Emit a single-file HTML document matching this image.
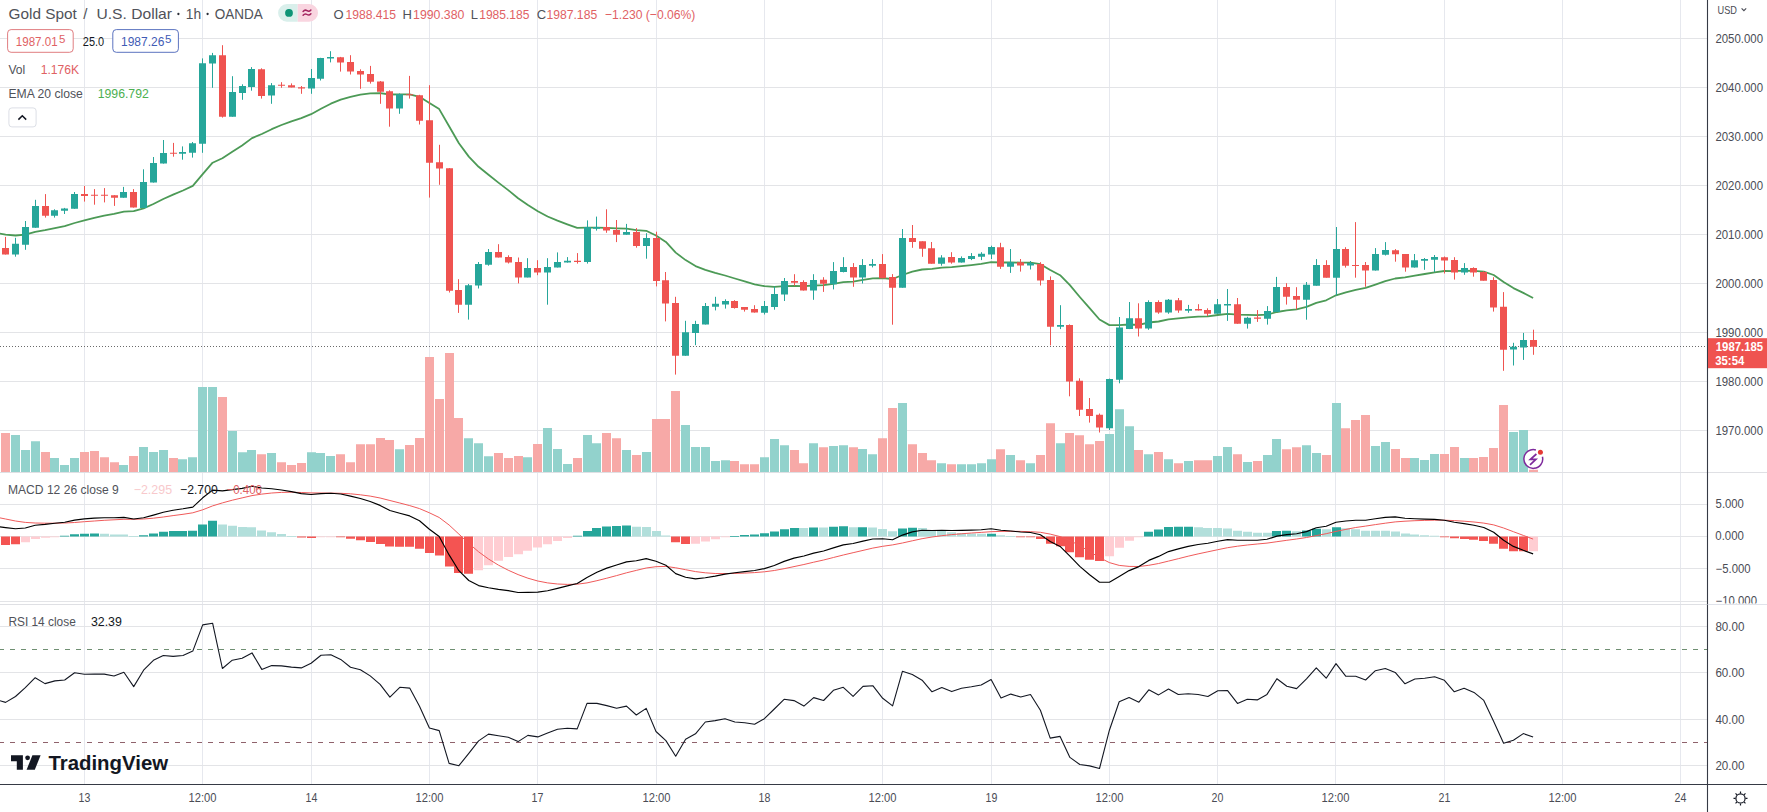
<!DOCTYPE html><html><head><meta charset="utf-8"><style>html,body{margin:0;padding:0;background:#fff;overflow:hidden}svg{display:block}text{font-family:"Liberation Sans", sans-serif}</style></head><body>
<svg width="1767" height="812" viewBox="0 0 1767 812">
<rect width="1767" height="812" fill="#fff"/>
<path d="M84.5 0V784 M202.5 0V784 M311.5 0V784 M429.5 0V784 M537.5 0V784 M656.5 0V784 M764.5 0V784 M882.5 0V784 M991.5 0V784 M1109.5 0V784 M1217.5 0V784 M1335.5 0V784 M1444.5 0V784 M1562.5 0V784 M1680.5 0V784" stroke="#e6e8ee" stroke-width="1" fill="none"/>
<path d="M0 38.5H1707.5 M0 87.5H1707.5 M0 136.5H1707.5 M0 185.5H1707.5 M0 234.5H1707.5 M0 283.5H1707.5 M0 332.5H1707.5 M0 381.5H1707.5 M0 430.5H1707.5 M0 504.5H1707.5 M0 536.5H1707.5 M0 568.5H1707.5 M0 601.5H1707.5 M0 626.5H1707.5 M0 672.5H1707.5 M0 719.5H1707.5 M0 765.5H1707.5" stroke="#e3e4e7" stroke-width="1" fill="none"/>
<path d="M0 472.5H1767M0 604.5H1767" stroke="#dfe0e4" stroke-width="1" fill="none"/>
<path d="M11 435.0H20V472H11ZM21 450.0H30V472H21ZM31 441.2H40V472H31ZM50 458.1H59V472H50ZM60 464.9H69V472H60ZM70 458.1H79V472H70ZM119 464.9H128V472H119ZM139 447.0H148V472H139ZM149 452.1H158V472H149ZM159 450.0H168V472H159ZM178 459.2H187V472H178ZM188 457.2H197V472H188ZM198 387.0H207V472H198ZM208 387.0H217V472H208ZM228 431.0H237V472H228ZM238 452.2H247V472H238ZM247 450.0H256V472H247ZM267 453.0H276V472H267ZM307 452.2H316V472H307ZM316 453.0H325V472H316ZM326 456.0H335V472H326ZM395 449.2H404V472H395ZM464 438.2H473V472H464ZM474 443.2H483V472H474ZM484 456.2H493V472H484ZM523 457.2H532V472H523ZM543 428.0H552V472H543ZM553 449.0H562V472H553ZM563 464.0H572V472H563ZM583 435.0H592V472H583ZM592 443.2H601V472H592ZM622 450.0H631V472H622ZM642 452.1H651V472H642ZM681 425.0H690V472H681ZM691 447.0H700V472H691ZM701 447.0H710V472H701ZM711 461.0H720V472H711ZM721 460.2H730V472H721ZM760 457.2H769V472H760ZM770 439.1H779V472H770ZM780 445.2H789V472H780ZM809 443.2H818V472H809ZM829 446.0H838V472H829ZM839 445.2H848V472H839ZM858 449.0H867V472H858ZM868 454.2H877V472H868ZM898 403.1H907V472H898ZM937 463.3H946V472H937ZM957 464.2H966V472H957ZM967 464.2H976V472H967ZM977 463.3H986V472H977ZM987 459.2H996V472H987ZM1006 455.1H1015V472H1006ZM1026 463.3H1035V472H1026ZM1056 443.2H1065V472H1056ZM1105 434.1H1114V472H1105ZM1115 409.2H1124V472H1115ZM1125 426.2H1134V472H1125ZM1144 454.2H1153V472H1144ZM1164 459.2H1173V472H1164ZM1184 461.0H1193V472H1184ZM1213 456.1H1222V472H1213ZM1223 447.0H1232V472H1223ZM1243 461.9H1252V472H1243ZM1263 455.1H1272V472H1263ZM1272 439.1H1281V472H1272ZM1302 445.2H1311V472H1302ZM1312 453.1H1321V472H1312ZM1332 403.1H1341V472H1332ZM1371 446.0H1380V472H1371ZM1381 442.1H1390V472H1381ZM1410 458.1H1419V472H1410ZM1420 460.0H1429V472H1420ZM1430 454.0H1439V472H1430ZM1460 458.1H1469V472H1460ZM1509 432.0H1518V472H1509ZM1519 430.0H1528V472H1519Z" fill="#92d2cc"/>
<path d="M1 433.1H10V472H1ZM41 452.1H50V472H41ZM80 452.1H89V472H80ZM90 451.1H99V472H90ZM100 457.2H109V472H100ZM110 462.2H119V472H110ZM129 456.1H138V472H129ZM169 458.1H178V472H169ZM218 397.0H227V472H218ZM257 454.2H266V472H257ZM277 462.2H286V472H277ZM287 465.0H296V472H287ZM297 463.0H306V472H297ZM336 454.2H345V472H336ZM346 462.2H355V472H346ZM356 444.2H365V472H356ZM366 444.2H375V472H366ZM376 438.1H385V472H376ZM385 440.0H394V472H385ZM405 445.0H414V472H405ZM415 438.1H424V472H415ZM425 357.0H434V472H425ZM435 399.0H444V472H435ZM445 353.0H454V472H445ZM454 418.1H463V472H454ZM494 453.1H503V472H494ZM504 458.1H513V472H504ZM514 456.1H523V472H514ZM533 444.0H542V472H533ZM573 458.1H582V472H573ZM602 433.1H611V472H602ZM612 438.2H621V472H612ZM632 455.1H641V472H632ZM652 419.1H661V472H652ZM661 419.1H670V472H661ZM671 391.0H680V472H671ZM730 461.0H739V472H730ZM740 464.2H749V472H740ZM750 464.2H759V472H750ZM790 450.1H799V472H790ZM799 463.3H808V472H799ZM819 447.3H828V472H819ZM849 447.3H858V472H849ZM878 438.2H887V472H878ZM888 408.0H897V472H888ZM908 444.3H917V472H908ZM918 453.1H927V472H918ZM927 460.2H936V472H927ZM947 464.2H956V472H947ZM996 449.3H1005V472H996ZM1016 460.2H1025V472H1016ZM1036 455.1H1045V472H1036ZM1046 423.2H1055V472H1046ZM1065 433.1H1074V472H1065ZM1075 435.2H1084V472H1075ZM1085 444.3H1094V472H1085ZM1095 441.1H1104V472H1095ZM1134 450.1H1143V472H1134ZM1154 452.1H1163V472H1154ZM1174 463.3H1183V472H1174ZM1194 460.2H1203V472H1194ZM1203 460.2H1212V472H1203ZM1233 454.2H1242V472H1233ZM1253 461.0H1262V472H1253ZM1282 449.3H1291V472H1282ZM1292 447.3H1301V472H1292ZM1322 455.1H1331V472H1322ZM1341 428.2H1350V472H1341ZM1351 420.1H1360V472H1351ZM1361 415.1H1370V472H1361ZM1391 449.1H1400V472H1391ZM1401 458.1H1410V472H1401ZM1440 454.0H1449V472H1440ZM1450 447.0H1459V472H1450ZM1469 458.1H1478V472H1469ZM1479 457.1H1488V472H1479ZM1489 448.0H1498V472H1489ZM1499 404.9H1508V472H1499ZM1529 469.8H1538V472H1529Z" fill="#f7a9a7"/>
<path d="M0 346.5H1707.5" stroke="#6a6a6a" stroke-width="1" stroke-dasharray="1 2" fill="none"/>
<polyline points="-4.4,232.8 5.6,234.7 15.5,235.5 25.3,234.6 35.2,231.8 45.0,230.2 54.9,228.2 64.7,226.2 74.6,223.0 84.4,220.4 94.3,217.9 104.2,215.7 114.0,213.9 123.9,211.7 133.7,211.2 143.6,208.4 153.4,204.0 163.3,199.0 173.1,194.6 183.0,190.5 192.8,185.9 202.7,174.1 212.6,162.7 222.4,158.2 232.3,151.8 242.1,145.5 252.0,138.1 261.8,134.0 271.7,129.2 281.5,125.0 291.4,121.3 301.3,118.1 311.1,114.2 321.0,108.8 330.8,103.7 340.7,99.7 350.5,96.9 360.4,94.7 370.2,93.4 380.1,93.1 389.9,94.5 399.8,94.4 409.7,94.4 419.5,96.8 429.4,103.0 439.2,109.1 449.1,126.3 458.9,143.2 468.8,156.6 478.6,166.8 488.5,174.8 498.4,182.6 508.2,190.1 518.1,198.3 527.9,204.9 537.8,211.2 547.6,216.5 557.5,220.7 567.3,224.4 577.2,227.9 587.0,227.7 596.9,227.6 606.8,227.8 616.6,228.3 626.5,228.6 636.3,230.1 646.2,230.8 656.0,235.5 665.9,241.9 675.7,252.6 685.6,260.1 695.5,266.1 705.3,269.8 715.2,272.9 725.0,275.5 734.9,278.5 744.7,281.4 754.6,284.3 764.4,286.2 774.3,286.9 784.1,286.2 794.0,285.8 803.9,286.2 813.7,285.5 823.6,285.2 833.4,283.8 843.3,282.1 853.1,281.6 863.0,279.9 872.8,278.3 882.7,278.2 892.6,279.0 902.4,275.0 912.3,271.7 922.1,269.5 932.0,268.8 941.8,267.6 951.7,267.1 961.5,266.1 971.4,265.1 981.2,263.9 991.1,262.2 1001.0,262.5 1010.8,262.4 1020.7,262.6 1030.5,262.6 1040.4,264.2 1050.2,270.0 1060.1,275.2 1069.9,285.2 1079.8,297.0 1089.6,308.2 1099.5,319.5 1109.4,325.1 1119.2,325.2 1129.1,324.5 1138.9,324.8 1148.8,322.5 1158.6,321.5 1168.5,319.3 1178.3,318.4 1188.2,317.4 1198.1,316.6 1207.9,316.3 1217.8,315.0 1227.6,313.9 1237.5,314.7 1247.3,314.9 1257.2,315.2 1267.0,314.7 1276.9,312.0 1286.8,310.4 1296.6,309.3 1306.5,306.9 1316.3,302.8 1326.2,300.3 1336.0,295.3 1345.9,292.4 1355.7,289.8 1365.6,287.9 1375.4,284.6 1385.3,281.2 1395.2,278.5 1405.0,277.4 1414.9,275.6 1424.7,274.0 1434.6,272.3 1444.4,271.0 1454.3,271.1 1464.1,270.7 1474.0,270.8 1483.8,271.6 1493.7,275.0 1503.6,282.0 1513.4,288.1 1523.3,292.9 1533.1,298.0" fill="none" stroke="#4c9a56" stroke-width="1.8" stroke-linejoin="round"/>
<path d="M15.50 237.8V256.7 M25.50 221.0V249.8 M35.50 199.8V227.8 M54.50 209.3V217.6 M64.50 207.9V214.0 M74.50 192.0V208.8 M123.50 186.9V197.8 M143.50 169.3V207.9 M153.50 157.0V182.6 M163.50 140.0V163.6 M182.50 146.4V159.7 M192.50 142.0V157.6 M202.50 58.4V152.8 M212.50 52.9V87.8 M232.50 76.2V116.7 M242.50 84.3V99.8 M251.50 67.1V90.7 M271.50 83.1V103.8 M311.50 69.0V93.8 M320.50 57.8V80.5 M330.50 51.2V62.4 M399.50 93.4V113.8 M468.50 284.0V319.6 M478.50 262.0V288.5 M488.50 249.0V265.7 M527.50 258.2V277.4 M547.50 258.2V304.7 M557.50 252.4V267.5 M567.50 257.1V262.6 M587.50 220.4V263.6 M596.50 216.6V230.6 M626.50 223.9V234.8 M646.50 233.2V258.7 M685.50 320.8V355.8 M695.50 320.8V345.2 M705.50 303.0V324.5 M715.50 296.8V310.4 M725.50 299.3V308.6 M764.50 301.0V314.5 M774.50 286.5V309.7 M784.50 278.0V301.0 M813.50 274.2V299.8 M833.50 262.1V289.4 M843.50 257.2V272.4 M862.50 259.1V283.5 M872.50 259.1V267.4 M902.50 229.0V287.7 M941.50 255.2V265.7 M961.50 256.4V262.6 M971.50 253.1V260.1 M981.50 252.2V260.1 M991.50 245.7V259.0 M1010.50 249.0V272.9 M1030.50 261.0V269.5 M1060.50 305.2V329.1 M1109.50 378.6V430.0 M1119.50 317.0V383.3 M1129.50 302.0V329.1 M1148.50 300.3V329.8 M1168.50 299.0V313.8 M1188.50 304.9V312.8 M1217.50 299.0V313.8 M1227.50 289.0V320.9 M1247.50 316.8V328.6 M1267.50 306.1V324.6 M1276.50 276.9V311.9 M1306.50 282.0V319.7 M1316.50 259.1V285.7 M1336.50 227.0V295.4 M1375.50 248.1V270.6 M1385.50 242.1V255.5 M1414.50 254.0V267.6 M1424.50 258.0V269.8 M1434.50 255.0V272.0 M1464.50 263.1V274.8 M1513.50 342.8V365.5 M1523.50 332.9V359.9" stroke="#26a69a" stroke-width="1" fill="none"/>
<path d="M12.00 243.8h7v10.7h-7ZM22.00 227.1h7v17.6h-7ZM32.00 205.9h7v21.9h-7ZM51.00 210.2h7v5.5h-7ZM61.00 208.4h7v2.3h-7ZM71.00 194.1h7v14.7h-7ZM120.00 192.0h7v5.8h-7ZM140.00 182.0h7v25.9h-7ZM150.00 163.1h7v19.5h-7ZM160.00 152.9h7v10.7h-7ZM179.00 152.0h7v1.8h-7ZM189.00 143.3h7v9.5h-7ZM199.00 63.3h7v80.5h-7ZM209.00 55.3h7v8.3h-7ZM229.00 92.1h7v24.6h-7ZM239.00 86.0h7v6.9h-7ZM248.00 69.1h7v17.8h-7ZM268.00 85.2h7v10.3h-7ZM308.00 77.9h7v10.7h-7ZM317.00 58.1h7v20.7h-7ZM327.00 56.9h7v1.7h-7ZM396.00 94.3h7v14.3h-7ZM465.00 285.2h7v19.5h-7ZM475.00 264.1h7v21.5h-7ZM485.00 252.0h7v12.8h-7ZM524.00 268.1h7v9.3h-7ZM544.00 267.0h7v5.6h-7ZM554.00 261.9h7v5.6h-7ZM564.00 260.8h7v1.8h-7ZM584.00 227.0h7v35.0h-7ZM593.00 227.0h7v1.8h-7ZM623.00 232.1h7v2.7h-7ZM643.00 238.1h7v7.8h-7ZM682.00 332.3h7v23.5h-7ZM692.00 324.1h7v8.9h-7ZM702.00 305.9h7v18.6h-7ZM712.00 303.7h7v3.1h-7ZM722.00 301.0h7v3.5h-7ZM761.00 306.0h7v6.8h-7ZM771.00 293.9h7v13.0h-7ZM781.00 281.0h7v13.6h-7ZM810.00 280.1h7v10.5h-7ZM830.00 271.0h7v13.3h-7ZM840.00 267.0h7v5.0h-7ZM859.00 265.0h7v12.6h-7ZM869.00 264.0h7v1.8h-7ZM899.00 237.9h7v49.8h-7ZM938.00 257.4h7v6.3h-7ZM958.00 258.1h7v4.5h-7ZM968.00 256.1h7v2.8h-7ZM978.00 253.8h7v2.9h-7ZM988.00 247.1h7v7.5h-7ZM1007.00 262.3h7v4.4h-7ZM1027.00 262.9h7v2.5h-7ZM1057.00 325.0h7v1.7h-7ZM1106.00 379.1h7v49.2h-7ZM1116.00 327.4h7v52.4h-7ZM1126.00 318.3h7v10.8h-7ZM1145.00 302.0h7v26.6h-7ZM1165.00 299.8h7v12.8h-7ZM1185.00 309.1h7v1.7h-7ZM1214.00 304.2h7v9.6h-7ZM1224.00 303.9h7v1.5h-7ZM1244.00 317.8h7v6.0h-7ZM1264.00 311.1h7v7.6h-7ZM1273.00 286.9h7v25.0h-7ZM1303.00 284.7h7v15.1h-7ZM1313.00 265.0h7v20.7h-7ZM1333.00 249.1h7v28.6h-7ZM1372.00 254.0h7v16.6h-7ZM1382.00 249.9h7v4.9h-7ZM1411.00 260.2h7v7.4h-7ZM1421.00 259.0h7v1.7h-7ZM1431.00 257.0h7v2.8h-7ZM1461.00 268.1h7v4.3h-7ZM1510.00 346.8h7v2.7h-7ZM1520.00 340.1h7v7.5h-7Z" fill="#26a69a"/>
<path d="M5.50 236.9V254.5 M45.50 194.1V217.6 M84.50 186.0V201.6 M94.50 189.1V204.7 M104.50 188.1V202.4 M114.50 195.2V205.9 M133.50 189.1V207.6 M173.50 142.9V156.7 M222.50 45.2V117.6 M261.50 68.3V98.6 M281.50 82.2V87.8 M291.50 83.4V87.4 M301.50 86.0V93.8 M340.50 56.9V71.6 M350.50 55.2V74.5 M360.50 69.3V88.8 M370.50 65.9V83.6 M380.50 81.0V103.8 M389.50 90.3V126.7 M409.50 75.9V98.6 M419.50 94.8V124.5 M429.50 85.2V197.6 M439.50 144.8V184.8 M449.50 168.1V292.5 M458.50 279.2V312.9 M498.50 244.2V257.5 M508.50 255.3V263.5 M518.50 257.5V283.4 M537.50 260.2V275.2 M577.50 253.1V263.6 M606.50 209.3V232.8 M616.50 220.0V242.1 M636.50 228.1V247.7 M656.50 231.7V286.4 M665.50 272.0V321.4 M675.50 296.8V374.6 M734.50 300.2V308.6 M744.50 307.1V311.6 M754.50 305.2V312.6 M794.50 274.2V285.7 M803.50 280.3V290.6 M823.50 277.2V291.9 M853.50 263.1V286.8 M882.50 254.1V278.2 M892.50 274.1V324.7 M912.50 225.0V247.8 M922.50 241.3V256.8 M931.50 242.0V263.7 M951.50 252.2V263.7 M1000.50 242.8V268.9 M1020.50 259.0V271.6 M1040.50 262.2V285.5 M1050.50 276.4V345.4 M1069.50 324.4V396.3 M1079.50 378.3V416.0 M1089.50 398.0V422.6 M1099.50 413.5V432.5 M1138.50 303.3V336.5 M1158.50 300.3V313.8 M1178.50 298.0V312.8 M1198.50 304.2V310.5 M1207.50 308.3V316.0 M1237.50 298.0V323.8 M1257.50 310.1V321.9 M1286.50 283.2V304.6 M1296.50 287.2V309.4 M1326.50 260.2V277.7 M1345.50 247.2V267.6 M1355.50 222.1V277.7 M1365.50 262.0V286.8 M1395.50 249.1V261.7 M1405.50 254.0V271.7 M1444.50 256.5V273.5 M1454.50 257.2V279.6 M1473.50 267.3V276.7 M1483.50 271.3V280.7 M1493.50 277.2V311.6 M1503.50 292.1V370.8 M1533.50 329.7V354.8" stroke="#ef5350" stroke-width="1" fill="none"/>
<path d="M2.00 248.1h7v6.4h-7ZM42.00 205.9h7v9.8h-7ZM81.00 194.1h7v1.9h-7ZM91.00 194.7h7v1.0h-7ZM101.00 194.7h7v1.0h-7ZM111.00 195.2h7v2.6h-7ZM130.00 192.0h7v15.6h-7ZM170.00 152.8h7v1.0h-7ZM219.00 55.3h7v61.4h-7ZM258.00 69.3h7v26.6h-7ZM278.00 84.7h7v1.0h-7ZM288.00 85.2h7v2.2h-7ZM298.00 87.2h7v1.4h-7ZM337.00 57.2h7v5.2h-7ZM347.00 62.1h7v9.5h-7ZM357.00 71.0h7v3.5h-7ZM367.00 74.0h7v7.7h-7ZM377.00 81.4h7v10.3h-7ZM386.00 91.2h7v17.4h-7ZM406.00 94.3h7v1.0h-7ZM416.00 95.2h7v25.5h-7ZM426.00 120.2h7v42.5h-7ZM436.00 162.2h7v6.4h-7ZM446.00 168.2h7v122.5h-7ZM455.00 290.0h7v14.7h-7ZM495.00 252.0h7v5.5h-7ZM505.00 257.1h7v5.5h-7ZM515.00 261.9h7v15.5h-7ZM534.00 268.1h7v4.5h-7ZM574.00 260.8h7v1.2h-7ZM603.00 227.0h7v3.6h-7ZM613.00 229.9h7v4.9h-7ZM633.00 232.1h7v13.8h-7ZM653.00 238.1h7v42.8h-7ZM662.00 280.2h7v23.3h-7ZM672.00 303.0h7v52.8h-7ZM731.00 301.0h7v6.9h-7ZM741.00 307.1h7v2.6h-7ZM751.00 309.1h7v3.5h-7ZM791.00 280.9h7v1.9h-7ZM800.00 282.0h7v8.6h-7ZM820.00 279.8h7v4.0h-7ZM850.00 267.0h7v10.6h-7ZM879.00 264.0h7v14.2h-7ZM889.00 277.0h7v10.7h-7ZM909.00 237.9h7v4.0h-7ZM919.00 241.3h7v7.4h-7ZM928.00 248.2h7v15.5h-7ZM948.00 257.1h7v5.5h-7ZM997.00 247.2h7v19.5h-7ZM1017.00 262.3h7v3.2h-7ZM1037.00 264.1h7v16.5h-7ZM1047.00 279.9h7v46.8h-7ZM1066.00 324.9h7v56.6h-7ZM1076.00 380.8h7v29.0h-7ZM1086.00 409.1h7v6.9h-7ZM1096.00 414.8h7v12.8h-7ZM1135.00 318.3h7v10.3h-7ZM1155.00 302.0h7v10.6h-7ZM1175.00 300.2h7v10.3h-7ZM1195.00 309.0h7v1.5h-7ZM1204.00 310.1h7v3.7h-7ZM1234.00 304.2h7v19.6h-7ZM1254.00 317.5h7v1.2h-7ZM1283.00 286.9h7v9.9h-7ZM1293.00 296.1h7v3.7h-7ZM1323.00 265.1h7v12.6h-7ZM1342.00 249.1h7v16.7h-7ZM1352.00 265.1h7v1.0h-7ZM1362.00 265.1h7v5.5h-7ZM1392.00 250.2h7v4.1h-7ZM1402.00 254.0h7v13.6h-7ZM1441.00 257.3h7v3.2h-7ZM1451.00 260.1h7v12.3h-7ZM1470.00 268.1h7v4.3h-7ZM1480.00 272.1h7v8.6h-7ZM1490.00 280.1h7v27.5h-7ZM1500.00 306.8h7v42.9h-7ZM1530.00 340.1h7v6.7h-7Z" fill="#ef5350"/>
<path d="M1 536.50h9v8.59h-9ZM11 536.50h9v7.82h-9ZM297 536.50h9v1.06h-9ZM307 536.50h9v1.55h-9ZM336 536.50h9v0.80h-9ZM346 536.50h9v2.27h-9ZM356 536.50h9v3.72h-9ZM366 536.50h9v5.42h-9ZM376 536.50h9v7.41h-9ZM385 536.50h9v10.03h-9ZM395 536.50h9v10.28h-9ZM405 536.50h9v10.28h-9ZM415 536.50h9v12.15h-9ZM425 536.50h9v16.45h-9ZM435 536.50h9v18.99h-9ZM445 536.50h9v29.95h-9ZM454 536.50h9v36.53h-9ZM464 536.50h9v37.13h-9ZM671 536.50h9v5.80h-9ZM681 536.50h9v7.57h-9ZM1016 536.50h9v0.80h-9ZM1026 536.50h9v0.85h-9ZM1036 536.50h9v2.53h-9ZM1046 536.50h9v7.34h-9ZM1056 536.50h9v9.85h-9ZM1065 536.50h9v15.63h-9ZM1075 536.50h9v20.75h-9ZM1085 536.50h9v23.31h-9ZM1095 536.50h9v24.53h-9ZM1440 536.50h9v0.80h-9ZM1450 536.50h9v1.68h-9ZM1460 536.50h9v2.41h-9ZM1469 536.50h9v3.23h-9ZM1479 536.50h9v4.41h-9ZM1489 536.50h9v7.28h-9ZM1499 536.50h9v12.33h-9ZM1509 536.50h9v14.68h-9ZM1519 536.50h9v14.86h-9Z" fill="#f45452"/>
<path d="M21 536.50h9v5.67h-9ZM31 536.50h9v2.38h-9ZM41 536.50h9v1.14h-9ZM50 536.46h9v0.80h-9ZM316 536.50h9v0.80h-9ZM326 536.50h9v0.80h-9ZM474 536.50h9v33.74h-9ZM484 536.50h9v28.69h-9ZM494 536.50h9v24.28h-9ZM504 536.50h9v20.40h-9ZM514 536.50h9v17.84h-9ZM523 536.50h9v14.17h-9ZM533 536.50h9v11.12h-9ZM543 536.50h9v7.75h-9ZM553 536.50h9v4.39h-9ZM563 536.50h9v1.52h-9ZM691 536.50h9v7.30h-9ZM701 536.50h9v4.90h-9ZM711 536.50h9v2.63h-9ZM721 536.50h9v0.80h-9ZM1105 536.50h9v19.76h-9ZM1115 536.50h9v11.18h-9ZM1125 536.50h9v4.19h-9ZM1134 536.50h9v0.80h-9ZM1529 536.50h9v14.77h-9Z" fill="#ffcdd2"/>
<path d="M60 535.69h9v0.81h-9ZM70 534.19h9v2.31h-9ZM80 533.65h9v2.85h-9ZM90 533.57h9v2.93h-9ZM139 535.33h9v1.17h-9ZM149 533.39h9v3.11h-9ZM159 531.65h9v4.85h-9ZM169 531.07h9v5.43h-9ZM178 531.03h9v5.47h-9ZM188 530.77h9v5.73h-9ZM198 524.44h9v12.06h-9ZM208 520.68h9v15.82h-9ZM573 535.81h9v0.80h-9ZM583 531.10h9v5.40h-9ZM592 528.01h9v8.49h-9ZM602 526.42h9v10.08h-9ZM612 525.92h9v10.58h-9ZM622 525.58h9v10.92h-9ZM730 535.89h9v0.80h-9ZM740 535.03h9v1.47h-9ZM750 534.48h9v2.02h-9ZM760 533.36h9v3.14h-9ZM770 531.49h9v5.01h-9ZM780 529.20h9v7.30h-9ZM790 528.00h9v8.50h-9ZM809 527.42h9v9.08h-9ZM829 526.85h9v9.65h-9ZM839 526.37h9v10.13h-9ZM858 527.20h9v9.30h-9ZM898 528.62h9v7.88h-9ZM908 527.67h9v8.83h-9ZM987 533.67h9v2.83h-9ZM1144 531.66h9v4.84h-9ZM1154 529.39h9v7.11h-9ZM1164 527.03h9v9.47h-9ZM1174 526.71h9v9.79h-9ZM1184 526.71h9v9.79h-9ZM1272 530.90h9v5.60h-9ZM1282 530.83h9v5.67h-9ZM1302 530.58h9v5.92h-9ZM1312 528.78h9v7.72h-9ZM1332 527.37h9v9.13h-9Z" fill="#26a69a"/>
<path d="M100 533.82h9v2.68h-9ZM110 534.43h9v2.07h-9ZM119 534.60h9v1.90h-9ZM129 536.26h9v0.80h-9ZM218 524.56h9v11.94h-9ZM228 525.87h9v10.63h-9ZM238 527.07h9v9.43h-9ZM247 527.25h9v9.25h-9ZM257 530.47h9v6.03h-9ZM267 532.29h9v4.21h-9ZM277 534.09h9v2.41h-9ZM287 535.89h9v0.80h-9ZM632 526.76h9v9.74h-9ZM642 527.05h9v9.45h-9ZM652 531.01h9v5.49h-9ZM661 535.40h9v1.10h-9ZM799 528.07h9v8.43h-9ZM819 527.57h9v8.93h-9ZM849 527.32h9v9.18h-9ZM868 527.40h9v9.10h-9ZM878 529.08h9v7.42h-9ZM888 531.23h9v5.27h-9ZM918 528.06h9v8.44h-9ZM927 529.99h9v6.51h-9ZM937 531.00h9v5.50h-9ZM947 532.37h9v4.13h-9ZM957 533.09h9v3.41h-9ZM967 533.57h9v2.93h-9ZM977 533.87h9v2.63h-9ZM996 535.37h9v1.13h-9ZM1006 536.18h9v0.80h-9ZM1194 527.16h9v9.34h-9ZM1203 528.04h9v8.46h-9ZM1213 528.10h9v8.40h-9ZM1223 528.43h9v8.07h-9ZM1233 530.63h9v5.87h-9ZM1243 531.72h9v4.78h-9ZM1253 532.65h9v3.85h-9ZM1263 532.73h9v3.77h-9ZM1292 531.29h9v5.21h-9ZM1322 529.13h9v7.37h-9ZM1341 528.19h9v8.31h-9ZM1351 529.20h9v7.30h-9ZM1361 530.70h9v5.80h-9ZM1371 530.66h9v5.84h-9ZM1381 530.70h9v5.80h-9ZM1391 531.52h9v4.98h-9ZM1401 533.54h9v2.96h-9ZM1410 534.48h9v2.02h-9ZM1420 535.22h9v1.28h-9ZM1430 535.73h9v0.80h-9Z" fill="#b2dfdb"/>
<polyline points="-4.4,517.0 5.6,519.0 15.5,521.0 25.3,522.4 35.2,523.0 45.0,523.2 54.9,523.2 64.7,523.0 74.6,522.5 84.4,521.7 94.3,521.0 104.2,520.3 114.0,519.8 123.9,519.3 133.7,519.3 143.6,519.0 153.4,518.2 163.3,517.0 173.1,515.6 183.0,514.3 192.8,512.8 202.7,509.8 212.6,505.9 222.4,502.9 232.3,500.2 242.1,497.9 252.0,495.6 261.8,494.1 271.7,493.0 281.5,492.4 291.4,492.2 301.3,492.5 311.1,492.9 321.0,493.0 330.8,493.1 340.7,493.3 350.5,493.8 360.4,494.8 370.2,496.1 380.1,498.0 389.9,500.5 399.8,503.0 409.7,505.6 419.5,508.6 429.4,512.8 439.2,517.5 449.1,525.0 458.9,534.1 468.8,543.4 478.6,551.8 488.5,559.0 498.4,565.1 508.2,570.2 518.1,574.6 527.9,578.2 537.8,581.0 547.6,582.9 557.5,584.0 567.3,584.4 577.2,584.2 587.0,582.9 596.9,580.7 606.8,578.2 616.6,575.6 626.5,572.8 636.3,570.4 646.2,568.0 656.0,566.7 665.9,566.4 675.7,567.8 685.6,569.7 695.5,571.6 705.3,572.8 715.2,573.5 725.0,573.6 734.9,573.4 744.7,573.1 754.6,572.6 764.4,571.8 774.3,570.5 784.1,568.7 794.0,566.6 803.9,564.5 813.7,562.2 823.6,560.0 833.4,557.5 843.3,555.0 853.1,552.7 863.0,550.4 872.8,548.1 882.7,546.3 892.6,544.9 902.4,543.0 912.3,540.8 922.1,538.7 932.0,537.0 941.8,535.7 951.7,534.6 961.5,533.8 971.4,533.0 981.2,532.4 991.1,531.7 1001.0,531.4 1010.8,531.3 1020.7,531.4 1030.5,531.7 1040.4,532.3 1050.2,534.1 1060.1,536.6 1069.9,540.5 1079.8,545.7 1089.6,551.5 1099.5,557.6 1109.4,562.6 1119.2,565.4 1129.1,566.4 1138.9,566.5 1148.8,565.3 1158.6,563.5 1168.5,561.1 1178.3,558.7 1188.2,556.2 1198.1,553.9 1207.9,551.8 1217.8,549.7 1227.6,547.7 1237.5,546.2 1247.3,545.0 1257.2,544.0 1267.0,543.1 1276.9,541.7 1286.8,540.3 1296.6,539.0 1306.5,537.5 1316.3,535.6 1326.2,533.7 1336.0,531.4 1345.9,529.4 1355.7,527.5 1365.6,526.1 1375.4,524.6 1385.3,523.2 1395.2,521.9 1405.0,521.2 1414.9,520.7 1424.7,520.4 1434.6,520.2 1444.4,520.2 1454.3,520.6 1464.1,521.2 1474.0,522.0 1483.8,523.1 1493.7,524.9 1503.6,528.0 1513.4,531.7 1523.3,535.4 1533.1,539.1" fill="none" stroke="#f05a5a" stroke-width="1" stroke-linejoin="round"/>
<polyline points="-4.4,526.4 5.6,527.6 15.5,528.8 25.3,528.0 35.2,525.3 45.0,524.4 54.9,523.2 64.7,522.2 74.6,520.1 84.4,518.9 94.3,518.1 104.2,517.7 114.0,517.8 123.9,517.4 133.7,519.0 143.6,517.8 153.4,515.1 163.3,512.2 173.1,510.2 183.0,508.8 192.8,507.1 202.7,497.8 212.6,490.1 222.4,490.9 232.3,489.6 242.1,488.4 252.0,486.3 261.8,488.0 271.7,488.8 281.5,490.0 291.4,491.6 301.3,493.6 311.1,494.5 321.0,493.6 330.8,493.2 340.7,494.0 350.5,496.1 360.4,498.5 370.2,501.5 380.1,505.4 389.9,510.5 399.8,513.3 409.7,515.9 419.5,520.8 429.4,529.2 439.2,536.5 449.1,554.9 458.9,570.7 468.8,580.5 478.6,585.6 488.5,587.7 498.4,589.4 508.2,590.6 518.1,592.5 527.9,592.4 537.8,592.1 547.6,590.7 557.5,588.4 567.3,585.9 577.2,583.5 587.0,577.5 596.9,572.3 606.8,568.1 616.6,565.0 626.5,561.9 636.3,560.7 646.2,558.6 656.0,561.2 665.9,565.3 675.7,573.6 685.6,577.3 695.5,578.9 705.3,577.7 715.2,576.1 725.0,574.1 734.9,572.8 744.7,571.6 754.6,570.5 764.4,568.6 774.3,565.5 784.1,561.4 794.0,558.1 803.9,556.0 813.7,553.1 823.6,551.0 833.4,547.9 843.3,544.9 853.1,543.5 863.0,541.1 872.8,539.0 882.7,538.8 892.6,539.7 902.4,535.1 912.3,531.9 922.1,530.2 932.0,530.5 941.8,530.2 951.7,530.5 961.5,530.4 971.4,530.1 981.2,529.7 991.1,528.8 1001.0,530.3 1010.8,531.0 1020.7,532.0 1030.5,532.5 1040.4,534.8 1050.2,541.5 1060.1,546.4 1069.9,556.1 1079.8,566.4 1089.6,574.8 1099.5,582.2 1109.4,582.3 1119.2,576.6 1129.1,570.6 1138.9,566.6 1148.8,560.4 1158.6,556.4 1168.5,551.6 1178.3,548.9 1188.2,546.4 1198.1,544.5 1207.9,543.3 1217.8,541.3 1227.6,539.6 1237.5,540.3 1247.3,540.2 1257.2,540.2 1267.0,539.3 1276.9,536.1 1286.8,534.6 1296.6,533.8 1306.5,531.6 1316.3,527.8 1326.2,526.3 1336.0,522.3 1345.9,521.0 1355.7,520.2 1365.6,520.3 1375.4,518.8 1385.3,517.4 1395.2,516.9 1405.0,518.2 1414.9,518.7 1424.7,519.1 1434.6,519.4 1444.4,520.2 1454.3,522.3 1464.1,523.6 1474.0,525.2 1483.8,527.5 1493.7,532.2 1503.6,540.3 1513.4,546.4 1523.3,550.3 1533.1,553.9" fill="none" stroke="#000" stroke-width="1.15" stroke-linejoin="round"/>
<path d="M0 649.5H1707.5" stroke="#6f8f72" stroke-width="1" stroke-dasharray="5 6" stroke-dashoffset="1" fill="none"/>
<path d="M0 742.5H1707.5" stroke="#8f626c" stroke-width="1" stroke-dasharray="5 6" stroke-dashoffset="1" fill="none"/>
<polyline points="-4.4,699.5 5.6,702.4 15.5,696.5 25.3,687.7 35.2,677.7 45.0,683.6 54.9,680.9 64.7,680.0 74.6,672.8 84.4,674.2 94.3,674.1 104.2,674.1 114.0,676.0 123.9,672.2 133.7,686.6 143.6,670.2 153.4,660.3 163.3,655.5 173.1,656.4 183.0,655.5 192.8,651.1 202.7,624.9 212.6,623.2 222.4,668.5 232.3,660.2 242.1,658.2 252.0,652.9 261.8,669.4 271.7,665.6 281.5,665.9 291.4,667.1 301.3,667.9 311.1,663.2 321.0,655.2 330.8,654.7 340.7,659.4 350.5,667.2 360.4,669.7 370.2,675.9 380.1,684.3 389.9,697.1 399.8,687.3 409.7,688.1 419.5,706.2 429.4,728.0 439.2,730.6 449.1,763.4 458.9,765.7 468.8,753.3 478.6,740.9 488.5,734.1 498.4,735.7 508.2,737.2 518.1,741.6 527.9,735.4 537.8,736.9 547.6,732.9 557.5,729.2 567.3,728.3 577.2,728.9 587.0,703.4 596.9,703.4 606.8,705.6 616.6,708.2 626.5,706.1 636.3,715.0 646.2,708.4 656.0,731.5 665.9,740.6 675.7,756.2 685.6,739.3 695.5,733.8 705.3,722.0 715.2,720.6 725.0,718.8 734.9,722.0 744.7,722.8 754.6,724.3 764.4,718.7 774.3,709.0 784.1,699.3 794.0,700.6 803.9,706.1 813.7,697.6 823.6,700.5 833.4,690.3 843.3,687.3 853.1,696.4 863.0,686.4 872.8,685.7 882.7,698.3 892.6,705.9 902.4,671.3 912.3,674.6 922.1,680.2 932.0,691.8 941.8,687.5 951.7,691.6 961.5,688.3 971.4,686.8 981.2,685.0 991.1,679.6 1001.0,697.9 1010.8,694.1 1020.7,697.0 1030.5,694.5 1040.4,710.3 1050.2,738.1 1060.1,736.4 1069.9,757.4 1079.8,764.5 1089.6,765.9 1099.5,768.5 1109.4,730.2 1119.2,701.8 1129.1,697.6 1138.9,702.2 1148.8,689.8 1158.6,694.9 1168.5,689.0 1178.3,694.5 1188.2,693.7 1198.1,694.5 1207.9,696.5 1217.8,690.7 1227.6,690.6 1237.5,703.4 1247.3,699.3 1257.2,699.9 1267.0,694.4 1276.9,678.7 1286.8,686.3 1296.6,688.6 1306.5,678.8 1316.3,667.8 1326.2,678.2 1336.0,663.6 1345.9,676.3 1355.7,676.3 1365.6,680.0 1375.4,670.7 1385.3,668.5 1395.2,672.4 1405.0,683.8 1414.9,679.0 1424.7,678.2 1434.6,676.8 1444.4,680.3 1454.3,691.8 1464.1,688.2 1474.0,692.4 1483.8,700.4 1493.7,721.4 1503.6,743.2 1513.4,740.3 1523.3,733.6 1533.1,737.0" fill="none" stroke="#131722" stroke-width="1.1" stroke-linejoin="round"/>
<rect x="1707.5" y="0" width="59.5" height="812" fill="#fff" opacity="0"/>
<path d="M1707.5 0V812" stroke="#363a45" stroke-width="1.1" fill="none"/>
<path d="M0 784.5H1767" stroke="#363a45" stroke-width="1.1" fill="none"/>
<path d="M1707.5 604.5H1767" stroke="#e0e3eb" stroke-width="1.2" fill="none"/>
<text x="1715.40" y="42.50" font-size="12" font-weight="normal" fill="#4a4c55" textLength="47.60" lengthAdjust="spacingAndGlyphs">2050.000</text>
<text x="1715.40" y="91.50" font-size="12" font-weight="normal" fill="#4a4c55" textLength="47.60" lengthAdjust="spacingAndGlyphs">2040.000</text>
<text x="1715.40" y="140.50" font-size="12" font-weight="normal" fill="#4a4c55" textLength="47.60" lengthAdjust="spacingAndGlyphs">2030.000</text>
<text x="1715.40" y="189.50" font-size="12" font-weight="normal" fill="#4a4c55" textLength="47.60" lengthAdjust="spacingAndGlyphs">2020.000</text>
<text x="1715.40" y="238.50" font-size="12" font-weight="normal" fill="#4a4c55" textLength="47.60" lengthAdjust="spacingAndGlyphs">2010.000</text>
<text x="1715.40" y="287.50" font-size="12" font-weight="normal" fill="#4a4c55" textLength="47.60" lengthAdjust="spacingAndGlyphs">2000.000</text>
<text x="1715.40" y="336.50" font-size="12" font-weight="normal" fill="#4a4c55" textLength="47.60" lengthAdjust="spacingAndGlyphs">1990.000</text>
<text x="1715.40" y="385.50" font-size="12" font-weight="normal" fill="#4a4c55" textLength="47.60" lengthAdjust="spacingAndGlyphs">1980.000</text>
<text x="1715.40" y="434.50" font-size="12" font-weight="normal" fill="#4a4c55" textLength="47.60" lengthAdjust="spacingAndGlyphs">1970.000</text>
<text x="1715.60" y="507.70" font-size="12" font-weight="normal" fill="#4a4c55" textLength="28.30" lengthAdjust="spacingAndGlyphs">5.000</text>
<text x="1715.30" y="539.70" font-size="12" font-weight="normal" fill="#4a4c55" textLength="28.60" lengthAdjust="spacingAndGlyphs">0.000</text>
<text x="1715.60" y="572.50" font-size="12" font-weight="normal" fill="#4a4c55" textLength="35.00" lengthAdjust="spacingAndGlyphs">−5.000</text>
<svg x="1708.5" y="590" width="58.5" height="13.5" overflow="hidden"><g transform="translate(-1708.5,-590)">
<text x="1715.60" y="605.30" font-size="12" font-weight="normal" fill="#4a4c55" textLength="41.40" lengthAdjust="spacingAndGlyphs">−10.000</text>
</g></svg>
<text x="1715.40" y="630.80" font-size="12" font-weight="normal" fill="#4a4c55" textLength="29.00" lengthAdjust="spacingAndGlyphs">80.00</text>
<text x="1715.40" y="676.80" font-size="12" font-weight="normal" fill="#4a4c55" textLength="29.00" lengthAdjust="spacingAndGlyphs">60.00</text>
<text x="1715.40" y="723.80" font-size="12" font-weight="normal" fill="#4a4c55" textLength="29.00" lengthAdjust="spacingAndGlyphs">40.00</text>
<text x="1715.40" y="769.80" font-size="12" font-weight="normal" fill="#4a4c55" textLength="29.00" lengthAdjust="spacingAndGlyphs">20.00</text>
<text x="1717.60" y="13.50" font-size="11.5" font-weight="normal" fill="#4a4c55" textLength="19.40" lengthAdjust="spacingAndGlyphs">USD</text>
<path d="M1741.6 8.4l2.3 2.3l2.3-2.3" stroke="#4a4c55" stroke-width="1.1" fill="none"/>
<rect x="1708.0" y="338.2" width="59.5" height="30" fill="#ef5350"/>
<text x="1715.80" y="351.00" font-size="12" font-weight="bold" fill="#fff" textLength="47.40" lengthAdjust="spacingAndGlyphs">1987.185</text>
<text x="1715.20" y="364.90" font-size="12" font-weight="bold" fill="#fff" textLength="29.10" lengthAdjust="spacingAndGlyphs">35:54</text>
<text x="78.60" y="801.80" font-size="12" font-weight="normal" fill="#4a4c55" textLength="11.80" lengthAdjust="spacingAndGlyphs">13</text>
<text x="188.50" y="801.80" font-size="12" font-weight="normal" fill="#4a4c55" textLength="28.00" lengthAdjust="spacingAndGlyphs">12:00</text>
<text x="305.60" y="801.80" font-size="12" font-weight="normal" fill="#4a4c55" textLength="11.80" lengthAdjust="spacingAndGlyphs">14</text>
<text x="415.50" y="801.80" font-size="12" font-weight="normal" fill="#4a4c55" textLength="28.00" lengthAdjust="spacingAndGlyphs">12:00</text>
<text x="531.60" y="801.80" font-size="12" font-weight="normal" fill="#4a4c55" textLength="11.80" lengthAdjust="spacingAndGlyphs">17</text>
<text x="642.50" y="801.80" font-size="12" font-weight="normal" fill="#4a4c55" textLength="28.00" lengthAdjust="spacingAndGlyphs">12:00</text>
<text x="758.60" y="801.80" font-size="12" font-weight="normal" fill="#4a4c55" textLength="11.80" lengthAdjust="spacingAndGlyphs">18</text>
<text x="868.50" y="801.80" font-size="12" font-weight="normal" fill="#4a4c55" textLength="28.00" lengthAdjust="spacingAndGlyphs">12:00</text>
<text x="985.60" y="801.80" font-size="12" font-weight="normal" fill="#4a4c55" textLength="11.80" lengthAdjust="spacingAndGlyphs">19</text>
<text x="1095.50" y="801.80" font-size="12" font-weight="normal" fill="#4a4c55" textLength="28.00" lengthAdjust="spacingAndGlyphs">12:00</text>
<text x="1211.60" y="801.80" font-size="12" font-weight="normal" fill="#4a4c55" textLength="11.80" lengthAdjust="spacingAndGlyphs">20</text>
<text x="1321.50" y="801.80" font-size="12" font-weight="normal" fill="#4a4c55" textLength="28.00" lengthAdjust="spacingAndGlyphs">12:00</text>
<text x="1438.60" y="801.80" font-size="12" font-weight="normal" fill="#4a4c55" textLength="11.80" lengthAdjust="spacingAndGlyphs">21</text>
<text x="1548.50" y="801.80" font-size="12" font-weight="normal" fill="#4a4c55" textLength="28.00" lengthAdjust="spacingAndGlyphs">12:00</text>
<text x="1674.60" y="801.80" font-size="12" font-weight="normal" fill="#4a4c55" textLength="11.80" lengthAdjust="spacingAndGlyphs">24</text>
<circle cx="1740.5" cy="798.4" r="4.6" stroke="#131722" stroke-width="1.2" fill="none"/><path d="M1745.50 798.40L1747.50 798.40M1744.04 801.94L1745.45 803.35M1740.50 803.40L1740.50 805.40M1736.96 801.94L1735.55 803.35M1735.50 798.40L1733.50 798.40M1736.96 794.86L1735.55 793.45M1740.50 793.40L1740.50 791.40M1744.04 794.86L1745.45 793.45" stroke="#131722" stroke-width="1.2"/>
<text x="8.60" y="18.85" font-size="15" font-weight="normal" fill="#505259" textLength="68.20" lengthAdjust="spacingAndGlyphs">Gold Spot</text>
<text x="83.20" y="18.85" font-size="15" font-weight="normal" fill="#505259">/</text>
<text x="96.50" y="18.85" font-size="15" font-weight="normal" fill="#505259" textLength="75.50" lengthAdjust="spacingAndGlyphs">U.S. Dollar</text>
<text x="185.80" y="18.85" font-size="15" font-weight="normal" fill="#505259" textLength="15.30" lengthAdjust="spacingAndGlyphs">1h</text>
<text x="214.70" y="18.85" font-size="15" font-weight="normal" fill="#505259" textLength="48.10" lengthAdjust="spacingAndGlyphs">OANDA</text>
<circle cx="178.4" cy="14.0" r="1.15" fill="#2a2d36"/><circle cx="207.6" cy="14.0" r="1.15" fill="#2a2d36"/>
<path d="M286.9 4.1H297.7V21.7H286.9A8.8 8.8 0 0 1 286.9 4.1Z" fill="#d9efeb"/>
<path d="M297.7 4.1H309.2A8.8 8.8 0 0 1 309.2 21.7H297.7Z" fill="#f9d5e0"/>
<circle cx="289" cy="12.9" r="3.9" fill="#0e9476"/>
<path d="M303.1 11.4q1.8-2.1 3.9-0.7t3.9-0.7M303.1 15.2q1.8-2.1 3.9-0.7t3.9-0.7" stroke="#a3245e" stroke-width="1.5" fill="none" stroke-linecap="round"/>
<text x="333.60" y="18.80" font-size="13" font-weight="normal" fill="#505259">O</text>
<text x="345.40" y="18.80" font-size="13" font-weight="normal" fill="#df6164" textLength="50.70" lengthAdjust="spacingAndGlyphs">1988.415</text>
<text x="402.60" y="18.80" font-size="13" font-weight="normal" fill="#505259">H</text>
<text x="413.10" y="18.80" font-size="13" font-weight="normal" fill="#df6164" textLength="51.30" lengthAdjust="spacingAndGlyphs">1990.380</text>
<text x="470.80" y="18.80" font-size="13" font-weight="normal" fill="#505259">L</text>
<text x="479.20" y="18.80" font-size="13" font-weight="normal" fill="#df6164" textLength="50.30" lengthAdjust="spacingAndGlyphs">1985.185</text>
<text x="536.70" y="18.80" font-size="13" font-weight="normal" fill="#505259">C</text>
<text x="546.40" y="18.80" font-size="13" font-weight="normal" fill="#df6164" textLength="50.80" lengthAdjust="spacingAndGlyphs">1987.185</text>
<text x="605.00" y="18.80" font-size="13" font-weight="normal" fill="#df6164" textLength="90.30" lengthAdjust="spacingAndGlyphs">−1.230 (−0.06%)</text>
<rect x="7.6" y="29.6" width="65.6" height="22.7" rx="3.5" fill="#fff" stroke="#e07d80" stroke-width="1"/>
<text x="15.80" y="45.70" font-size="12.5" font-weight="normal" fill="#df6164" textLength="41.80" lengthAdjust="spacingAndGlyphs">1987.01</text>
<text x="59.10" y="43.30" font-size="11.5" font-weight="normal" fill="#df6164">5</text>
<text x="82.80" y="45.70" font-size="12" font-weight="normal" fill="#131722" textLength="21.30" lengthAdjust="spacingAndGlyphs">25.0</text>
<rect x="112.8" y="29.6" width="65.6" height="22.7" rx="3.5" fill="#fff" stroke="#5c74c0" stroke-width="1"/>
<text x="121.00" y="45.70" font-size="12.5" font-weight="normal" fill="#3f5bb5" textLength="43.30" lengthAdjust="spacingAndGlyphs">1987.26</text>
<text x="165.00" y="43.30" font-size="11.5" font-weight="normal" fill="#3f5bb5">5</text>
<text x="8.40" y="73.50" font-size="12.5" font-weight="normal" fill="#505259" textLength="16.80" lengthAdjust="spacingAndGlyphs">Vol</text>
<text x="40.70" y="73.50" font-size="12.5" font-weight="normal" fill="#df6164" textLength="38.50" lengthAdjust="spacingAndGlyphs">1.176K</text>
<text x="8.40" y="98.10" font-size="12.5" font-weight="normal" fill="#505259" textLength="74.40" lengthAdjust="spacingAndGlyphs">EMA 20 close</text>
<text x="97.70" y="98.10" font-size="12.5" font-weight="normal" fill="#4caf50" textLength="51.10" lengthAdjust="spacingAndGlyphs">1996.792</text>
<rect x="8.9" y="107.9" width="27.2" height="19" rx="3" fill="#fff" stroke="#dcdfe6" stroke-width="1"/>
<path d="M18.4 119.6l3.9-3.9l3.9 3.9" stroke="#131722" stroke-width="1.5" fill="none"/>
<text x="8.00" y="493.90" font-size="12.5" font-weight="normal" fill="#505259" textLength="110.70" lengthAdjust="spacingAndGlyphs">MACD 12 26 close 9</text>
<text x="133.70" y="493.90" font-size="12.5" font-weight="normal" fill="#f8c9cc" textLength="38.40" lengthAdjust="spacingAndGlyphs">−2.295</text>
<text x="180.10" y="493.90" font-size="12.5" font-weight="normal" fill="#131722" textLength="37.60" lengthAdjust="spacingAndGlyphs">−2.700</text>
<text x="226.50" y="493.90" font-size="12.5" font-weight="normal" fill="#df6164" textLength="35.50" lengthAdjust="spacingAndGlyphs">−0.406</text>
<text x="8.40" y="626.10" font-size="12.5" font-weight="normal" fill="#505259" textLength="67.40" lengthAdjust="spacingAndGlyphs">RSI 14 close</text>
<text x="90.90" y="626.10" font-size="12.5" font-weight="normal" fill="#131722" textLength="31.00" lengthAdjust="spacingAndGlyphs">32.39</text>
<path d="M11 755.2H22.9V769.8H16.8V761.3H11Z" fill="#131722"/>
<circle cx="27.6" cy="757.8" r="2.4" fill="#131722"/>
<path d="M32.4 755.2H40.6L34.8 769.8H26.6Z" fill="#131722"/>
<text x="48.40" y="769.80" font-size="20.3" font-weight="bold" fill="#131722" textLength="119.70" lengthAdjust="spacingAndGlyphs">TradingView</text>
<circle cx="1533.3" cy="459.0" r="9.4" fill="#fff"/>
<path d="M1542.42 456.73A9.4 9.4 0 1 1 1535.89 449.96" stroke="#7e2a9c" stroke-width="1.5" fill="none"/>
<circle cx="1540.4" cy="452.3" r="2.5" fill="#e53935"/>
<path d="M1536.4 454.0L1530.4 459.3H1535.9L1530.0 464.8" stroke="#7e2a9c" stroke-width="1.7" fill="none" stroke-linejoin="miter" stroke-miterlimit="6"/>
</svg></body></html>
